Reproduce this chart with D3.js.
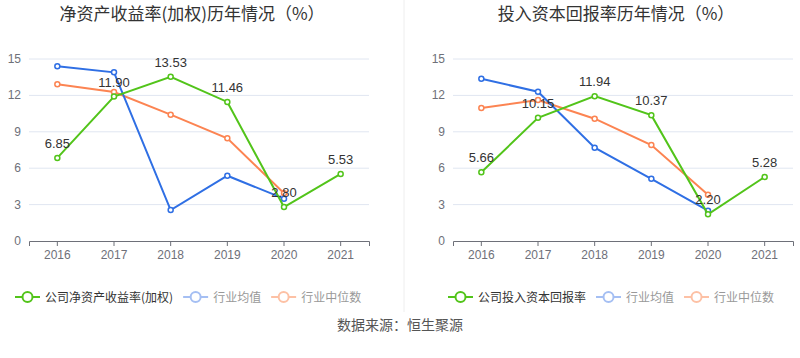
<!DOCTYPE html>
<html>
<head>
<meta charset="utf-8">
<script src="https://cdn.jsdelivr.net/npm/d3@7"></script>
<style>
  body { margin: 0; background: #fff; }
  svg { display: block; font-family: "Noto Sans CJK SC", "Liberation Sans", sans-serif; }
</style>
</head>
<body>
<div id="chart"></div>
<script>
// data
const years = ["2016", "2017", "2018", "2019", "2020", "2021"];
const yTicks = [0, 3, 6, 9, 12, 15];

const roeCompany = [6.85, 11.90, 13.53, 11.46, 2.80, 5.53];
const roeMean = [14.4, 13.9, 2.55, 5.38, 3.49];
const roeMedian = [12.92, 12.28, 10.41, 8.46, 3.93];

const roicCompany = [5.66, 10.15, 11.94, 10.37, 2.20, 5.28];
const roicMean = [13.37, 12.30, 7.69, 5.13, 2.50];
const roicMedian = [10.96, 11.62, 10.08, 7.91, 3.82];

const width = 800;
const height = 358;
const colors = { company: "#52c41a", mean: "#2f6fe4", median: "#fc8452" };

const svg = d3.select("#chart")
  .append("svg")
  .attr("width", width)
  .attr("height", height);

// divider between the two panels
svg.append("line")
  .attr("x1", 404).attr("x2", 404)
  .attr("y1", 0).attr("y2", 312)
  .attr("stroke", "#eeeeee");

function drawPanel(opts) {
  const g = svg.append("g");
  const x = d3.scaleBand()
    .domain(years)
    .range([opts.left, opts.left + 340]);
  const y = d3.scaleLinear()
    .domain([0, 15])
    .range([241, 59]);

  g.append("text")
    .attr("x", opts.left + 163)
    .attr("y", 20)
    .attr("text-anchor", "middle")
    .attr("font-size", "17px")
    .attr("fill", "#333")
    .text(opts.title);

  // grid
  g.selectAll(".grid")
    .data(yTicks.slice(1))
    .enter()
    .append("line")
    .attr("x1", opts.left).attr("x2", opts.left + 340)
    .attr("y1", d => y(d)).attr("y2", d => y(d))
    .attr("stroke", "#e0e6f1");

  // y labels
  g.selectAll(".ylab")
    .data(yTicks)
    .enter()
    .append("text")
    .attr("x", opts.left - 8)
    .attr("y", d => y(d) + 4)
    .attr("text-anchor", "end")
    .attr("font-size", "12px")
    .attr("fill", "#6e7079")
    .attr("font-family", "Liberation Sans, sans-serif")
    .text(d => d);

  // x axis
  const xAxis = g.append("g")
    .attr("transform", "translate(0,241)")
    .call(d3.axisBottom(x).tickSizeOuter(0).tickSize(5).tickPadding(4));
  xAxis.select(".domain").attr("stroke", "#6e7079");
  xAxis.selectAll(".tick line").attr("stroke", "#6e7079");
  xAxis.selectAll("text")
    .attr("font-size", "12px")
    .attr("fill", "#6e7079")
    .attr("font-family", "Liberation Sans, sans-serif");

  const line = d3.line()
    .x((d, i) => x(years[i]) + x.bandwidth() / 2)
    .y(d => y(d));

  const series = [
    { vals: opts.median, color: colors.median },
    { vals: opts.mean, color: colors.mean },
    { vals: opts.company, color: colors.company }
  ];

  series.forEach(s => {
    g.append("path")
      .attr("d", line(s.vals))
      .attr("fill", "none")
      .attr("stroke", s.color)
      .attr("stroke-width", 2);
    g.selectAll(null)
      .data(s.vals)
      .enter()
      .append("circle")
      .attr("cx", (d, i) => x(years[i]) + x.bandwidth() / 2)
      .attr("cy", d => y(d))
      .attr("r", 2.5)
      .attr("fill", "#fff")
      .attr("stroke", s.color)
      .attr("stroke-width", 1.5);
  });

  // labels on company series
  g.selectAll(".lab")
    .data(opts.company)
    .enter()
    .append("text")
    .attr("x", (d, i) => x(years[i]) + x.bandwidth() / 2)
    .attr("y", d => y(d) - 10)
    .attr("text-anchor", "middle")
    .attr("font-size", "13px")
    .attr("fill", "#333")
    .attr("font-family", "Liberation Sans, sans-serif")
    .text(d => d.toFixed(2));

  // legend
  const items = [
    { name: opts.legendName, color: colors.company, text: "#333" },
    { name: "行业均值", color: "#a5bff3", text: "#999" },
    { name: "行业中位数", color: "#fdc1a5", text: "#999" }
  ];
  let lx = opts.legendX;
  items.forEach(it => {
    const lg = g.append("g").attr("transform", `translate(${lx},297)`);
    lg.append("line")
      .attr("x1", 0).attr("x2", 25)
      .attr("stroke", it.color).attr("stroke-width", 2);
    lg.append("circle")
      .attr("cx", 12.5).attr("r", 5)
      .attr("fill", "#fff")
      .attr("stroke", it.color).attr("stroke-width", 2);
    const t = lg.append("text")
      .attr("x", 30).attr("y", 4.5)
      .attr("font-size", "12px")
      .attr("fill", it.text)
      .text(it.name);
    lx += 30 + t.node().getComputedTextLength() + 10;
  });
}

drawPanel({
  left: 29,
  title: "净资产收益率(加权)历年情况（%）",
  company: roeCompany, mean: roeMean, median: roeMedian,
  legendName: "公司净资产收益率(加权)",
  legendX: 15
});

drawPanel({
  left: 453,
  title: "投入资本回报率历年情况（%）",
  company: roicCompany, mean: roicMean, median: roicMedian,
  legendName: "公司投入资本回报率",
  legendX: 448
});

svg.append("text")
  .attr("x", 400)
  .attr("y", 330)
  .attr("text-anchor", "middle")
  .attr("font-size", "14px")
  .attr("fill", "#555")
  .text("数据来源：恒生聚源");
</script>
</body>
</html>
